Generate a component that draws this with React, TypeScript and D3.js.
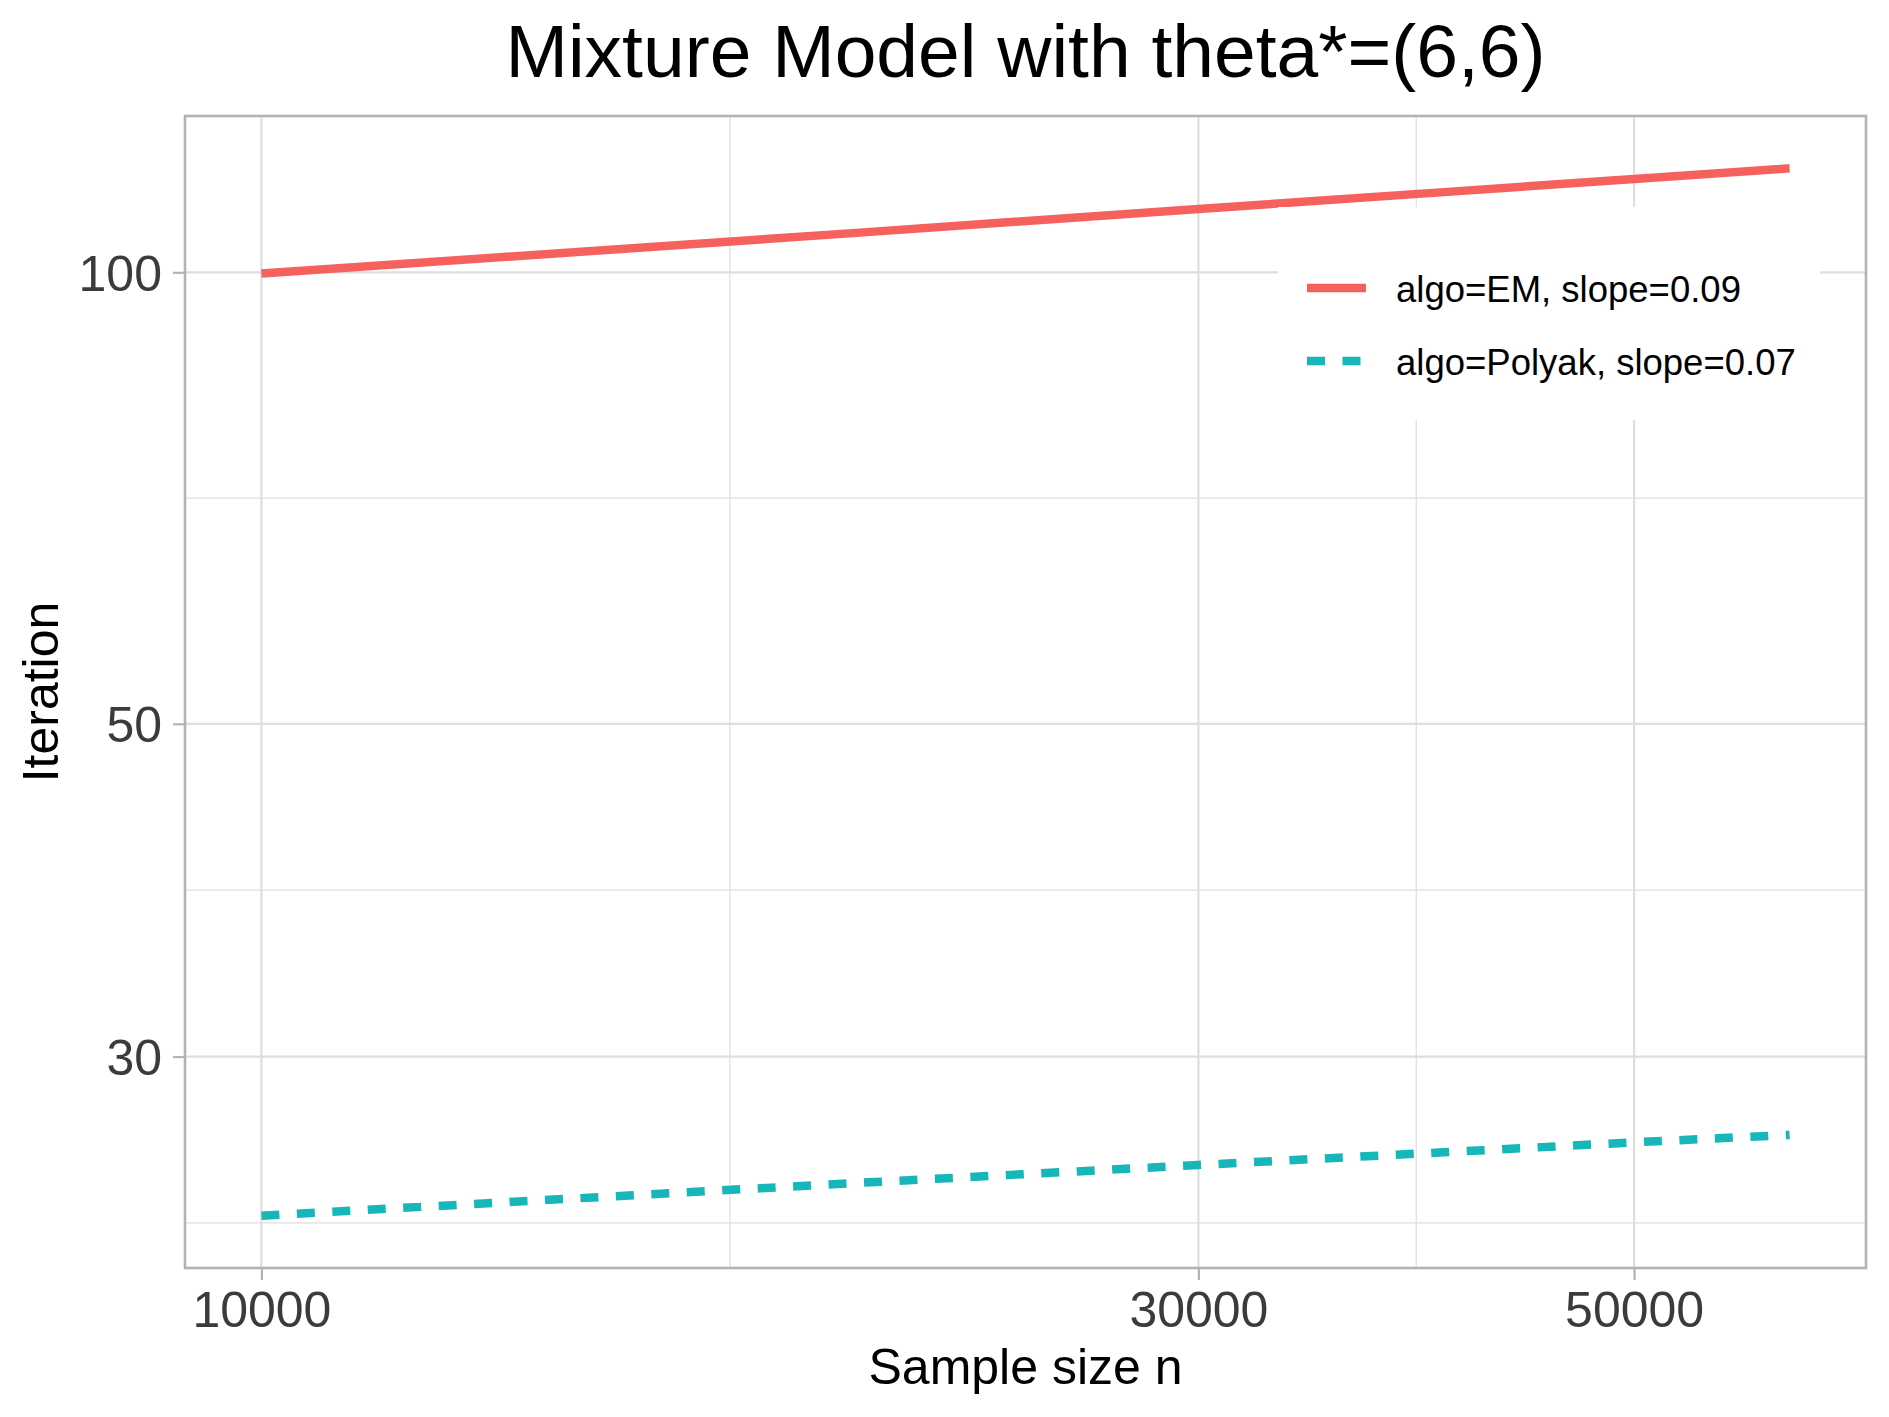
import React from 'react'
import * as d3 from "d3";

const sampleSizes = [10000, 20000, 30000, 40000, 50000, 60000]
const emIterations = [99.8, 106.2, 110.2, 113.1, 115.4, 117.3]
const polyakIterations = [23.5, 24.7, 25.4, 25.9, 26.3, 26.6]

const xTicks = [10000, 30000, 50000]
const yTicks = [30, 50, 100]

const seriesNames = ["algo=EM, slope=0.09", "algo=Polyak, slope=0.07"]
const seriesColors = ["#F5615C", "#17B6B9"]
const seriesDash = [null, "18,17.5"]

const title = "Mixture Model with theta*=(6,6)"
const xTitle = "Sample size n"
const yTitle = "Iteration"

const FONT = "'Liberation Sans', Arial, Helvetica, sans-serif"

// ggplot style: expand log range by 5% each side
function expandLog(lo: number, hi: number) {
  const a = Math.log10(lo), b = Math.log10(hi)
  const pad = (b - a) * 0.05
  return [Math.pow(10, a - pad), Math.pow(10, b + pad)]
}

// minor breaks at midpoints (in log space) between majors, extended one step each end
function minorBreaks(breaks: number[], domain: number[]) {
  const b = breaks.map(Math.log10)
  const bd = b[1] - b[0]
  const ext = [b[0] - bd, ...b, b[b.length - 1] + bd]
  const lo = Math.log10(domain[0]), hi = Math.log10(domain[1])
  const out: number[] = []
  for (let i = 0; i < ext.length - 1; i++) {
    const m = (ext[i] + ext[i + 1]) / 2
    if (m > lo && m < hi) out.push(Math.pow(10, m))
  }
  return out
}

function drawChart(svgRef: React.RefObject<SVGSVGElement>) {
  const width = 1889
  const height = 1417
  const left = 185, right = 1866, top = 116, bottom = 1268

  const svg = d3.select(svgRef.current)
    .attr("width", width)
    .attr("height", height)
    .attr("viewBox", [0, 0, width, height].join(" "))
    .style("display", "block")
    .attr("font-family", FONT)

  svg.selectAll("*").remove()

  const allY = emIterations.concat(polyakIterations)
  const xDomain = expandLog(d3.min(sampleSizes)!, d3.max(sampleSizes)!)
  const yDomain = expandLog(d3.min(allY)!, d3.max(allY)!)

  const x = d3.scaleLog().domain(xDomain).range([left, right])
  const y = d3.scaleLog().domain(yDomain).range([bottom, top])

  svg.append("rect")
    .attr("width", width).attr("height", height).attr("fill", "white")

  // grid
  const grid = svg.append("g").attr("stroke", "#DEDEDE").attr("fill", "none")
  minorBreaks(yTicks, yDomain).forEach(v => {
    grid.append("line").attr("x1", left).attr("x2", right)
      .attr("y1", y(v)).attr("y2", y(v)).attr("stroke-width", 1.2)
  })
  minorBreaks(xTicks, xDomain).forEach(v => {
    grid.append("line").attr("y1", top).attr("y2", bottom)
      .attr("x1", x(v)).attr("x2", x(v)).attr("stroke-width", 1.2)
  })
  yTicks.forEach(v => {
    grid.append("line").attr("x1", left).attr("x2", right)
      .attr("y1", y(v)).attr("y2", y(v)).attr("stroke-width", 2.2)
  })
  xTicks.forEach(v => {
    grid.append("line").attr("y1", top).attr("y2", bottom)
      .attr("x1", x(v)).attr("x2", x(v)).attr("stroke-width", 2.2)
  })

  // lines
  const line = d3.line<[number, number]>()
    .x(d => x(d[0]))
    .y(d => y(d[1]))

  const series = [emIterations, polyakIterations]
  series.forEach((vals, i) => {
    svg.append("path")
      .datum(sampleSizes.map((n, j) => [n, vals[j]] as [number, number]))
      .attr("fill", "none")
      .attr("stroke", seriesColors[i])
      .attr("stroke-width", 8.5)
      .attr("stroke-linecap", "butt")
      .attr("stroke-dasharray", seriesDash[i])
      .attr("d", line)
  })

  // panel border
  svg.append("rect")
    .attr("x", left).attr("y", top)
    .attr("width", right - left).attr("height", bottom - top)
    .attr("fill", "none").attr("stroke", "#B3B3B3").attr("stroke-width", 2.6)

  // axes
  const xAxis = svg.append("g")
    .attr("transform", `translate(0,${bottom})`)
    .call(d3.axisBottom(x).tickValues(xTicks).tickFormat(d3.format("d")).tickSize(12).tickPadding(10))
  xAxis.select(".domain").remove()
  xAxis.selectAll("line").attr("stroke", "#B3B3B3").attr("stroke-width", 2.2)
  xAxis.selectAll("text")
    .attr("font-size", 50).attr("fill", "#3B3B3B").attr("font-family", FONT)
    .attr("dy", null).attr("y", 59)

  const yAxis = svg.append("g")
    .attr("transform", `translate(${left},0)`)
    .call(d3.axisLeft(y).tickValues(yTicks).tickFormat(d3.format("d")).tickSize(12).tickPadding(10))
  yAxis.select(".domain").remove()
  yAxis.selectAll("line").attr("stroke", "#B3B3B3").attr("stroke-width", 2.2)
  yAxis.selectAll("text")
    .attr("font-size", 50).attr("fill", "#3B3B3B").attr("font-family", FONT)
    .attr("x", -23).attr("dy", "0.36em")

  // titles
  svg.append("text")
    .attr("x", (left + right) / 2).attr("y", 77)
    .attr("text-anchor", "middle").attr("font-size", 75).attr("fill", "black")
    .text(title)

  svg.append("text")
    .attr("x", (left + right) / 2).attr("y", 1384)
    .attr("text-anchor", "middle").attr("font-size", 50).attr("fill", "black")
    .text(xTitle)

  svg.append("text")
    .attr("transform", `translate(58,${(top + bottom) / 2}) rotate(-90)`)
    .attr("text-anchor", "middle").attr("font-size", 50).attr("fill", "black")
    .text(yTitle)

  // legend
  const legend = svg.append("g").attr("transform", "translate(1278,207)")
  legend.append("rect").attr("width", 542).attr("height", 213).attr("fill", "white")
  seriesNames.forEach((name, i) => {
    const ky = 81 + i * 73
    legend.append("line")
      .attr("x1", 29).attr("x2", 88).attr("y1", ky).attr("y2", ky)
      .attr("stroke", seriesColors[i]).attr("stroke-width", 8.5)
      .attr("stroke-dasharray", seriesDash[i])
    legend.append("text")
      .attr("x", 118).attr("y", ky + 14)
      .attr("font-size", 36.5).attr("fill", "black")
      .text(name)
  })

  return svg.node()
}

const App: React.FunctionComponent = () => {
  const svg = React.useRef<SVGSVGElement>(null)

  React.useEffect(() => {
    document.body.style.margin = "0"
    drawChart(svg)
  }, [svg])

  return (
    <div id="chart">
      <svg ref={svg} />
    </div>
  )
}

export default App
